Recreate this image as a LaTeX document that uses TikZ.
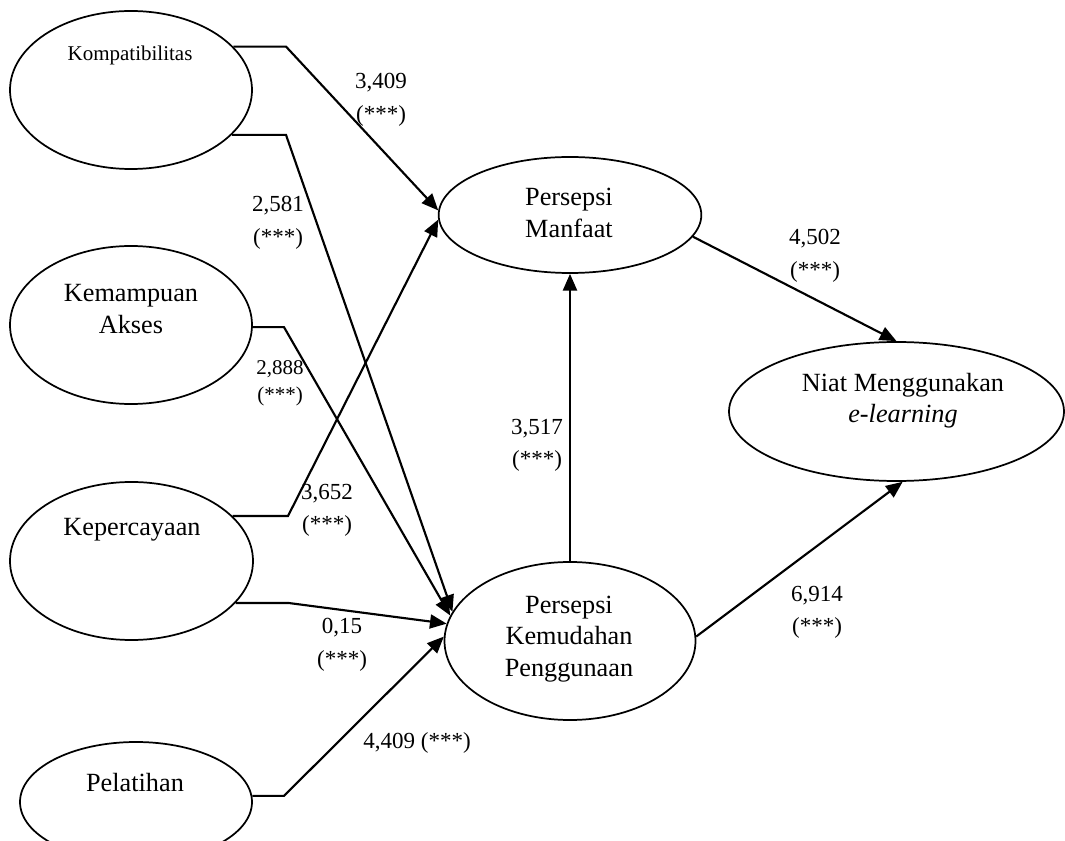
\documentclass[tikz,border=0pt]{standalone}
\usepackage{fontspec}
\setmainfont{Liberation Serif}
\usetikzlibrary{arrows.meta,shapes.geometric,calc}
\begin{document}
\begin{tikzpicture}[x=0.75pt,y=-0.75pt,
  latent/.style={draw,ellipse,line width=1.3pt,inner sep=0pt},
  conn/.style={line width=1.6pt,-{Triangle[length=12.5pt,width=10.5pt]}},
  ntext/.style={font=\fontsize{19.7}{23.5}\selectfont,align=center,inner sep=0pt},
  coef/.style={font=\fontsize{17.25}{24.5}\selectfont,align=center,inner sep=0pt},
]
\useasboundingbox (0,0) rectangle (1065,841);

% latent variables
\node[latent,minimum width=181.5pt,minimum height=118.5pt] (komp) at (131,90) {};
\node[latent,minimum width=181.5pt,minimum height=118.5pt] (akses) at (131,325) {};
\node[latent,minimum width=182.25pt,minimum height=118.5pt] (percaya) at (131.5,561) {};
\node[latent,minimum width=174pt,minimum height=90pt] (latih) at (136,802) {};
\node[latent,minimum width=197pt,minimum height=87pt] (pm) at (570,215) {};
\node[latent,minimum width=188.25pt,minimum height=118.5pt] (pkp) at (570,641) {};
\node[latent,minimum width=251.25pt,minimum height=104.25pt] (niat) at (896.5,411.5) {};

% texts
\node[ntext,font=\fontsize{15.75}{19}\selectfont] (kompT) at (130,55) {Kompatibilitas};
\node[ntext] (aksesT) at (131,309) {Kemampuan\\Akses};
\node[ntext] (percayaT) at (132,530) {Kepercayaan};
\node[ntext] (latihT) at (135,783) {Pelatihan};
\node[ntext] (pmT) at (569,213) {Persepsi\\Manfaat};
\node[ntext] (pkpT) at (569,639) {Persepsi\\Kemudahan\\Penggunaan};
\node[ntext] (niatT) at (903,401) {Niat Menggunakan\\\textit{e-learning}};

% bend columns
\coordinate (b1) at (286,0);
\coordinate (b2) at (284,0);
\coordinate (b3) at (288,0);
\coordinate (b4) at (289,0);

% connectors
\draw[conn] (komp.23.5) -- (komp.23.5 -| b1) -- (pm.178);
\draw[conn] (komp.-24.5) -- (komp.-24.5 -| b1) -- (pkp.166);
\draw[conn] (akses.-1) -- (akses.-1 -| b2) -- (pkp.168);
\draw[conn] (percaya.24.7) -- (percaya.24.7 -| b3) -- (pm.182);
\draw[conn] (percaya.-22.9) -- (percaya.-22.9 -| b4) -- (pkp.172);
\draw[conn] (latih.3) -- (latih.3 -| b2) -- (pkp.178);
\draw[conn] (pkp.north) -- (pm.south);
\draw[conn] (pm.-10) -- (niat.north);
\draw[conn] (pkp.2) -- (niat.-85);

% coefficients
\node[coef] (c1) at (381,99.5) {3,409\\(***)};
\node[coef] (c2) at (278,223) {2,581\\(***)};
\node[coef,font=\fontsize{15.75}{20.5}\selectfont] (c3) at (280,383.5) {2,888\\(***)};
\node[coef] (c4) at (327,510.5) {3,652\\(***)};
\node[coef] (c5) at (342,644.5) {0,15\\(***)};
\node[coef] (c6) at (417,743) {4,409 (***)};
\node[coef] (c7) at (537,445.5) {3,517\\(***)};
\node[coef] (c8) at (815,256) {4,502\\(***)};
\node[coef] (c9) at (817,612.5) {6,914\\(***)};
\end{tikzpicture}
\end{document}
